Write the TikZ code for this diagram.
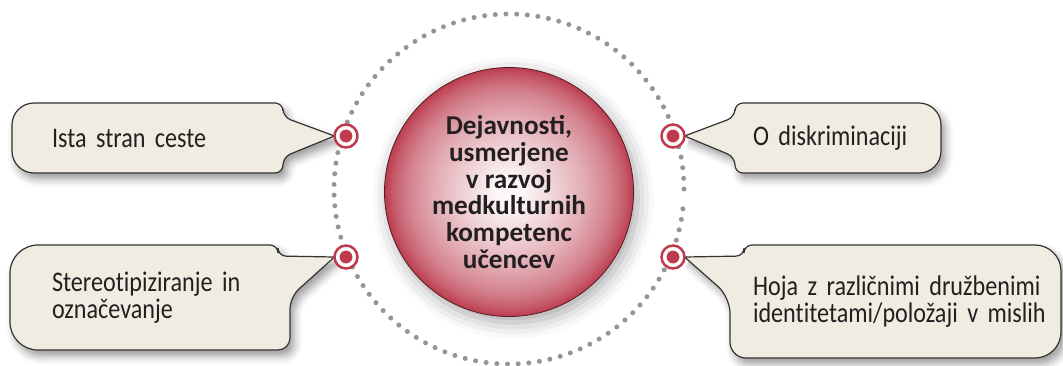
\documentclass[tikz,border=0pt]{standalone}
\usepackage{fontspec}
\setmainfont{Carlito}
\newfontfamily\bubblefont{Carlito}[FakeStretch=0.85,WordSpace=0.8,Ligatures=NoCommon]
\usepackage{tikz}
\usetikzlibrary{shadows.blur,backgrounds}
\definecolor{bubblefill}{HTML}{F0ECE2}
\definecolor{bubbleline}{HTML}{333333}
\definecolor{ringred}{HTML}{C03A4E}
\definecolor{ballred}{HTML}{BC3D50}
\definecolor{balllight}{HTML}{FCF8F8}
\definecolor{dotgray}{HTML}{959595}
\definecolor{inktext}{HTML}{231F20}
\pgfdeclareradialshading{ballshade}{\pgfpoint{0bp}{0bp}}{%
  color(0bp)=(balllight);
  color(2.5bp)=(balllight);
  color(9bp)=(ballred!20!balllight);
  color(15bp)=(ballred!40!balllight);
  color(20bp)=(ballred!62!balllight);
  color(23bp)=(ballred!82!balllight);
  color(25bp)=(ballred);
  color(50bp)=(ballred)}
\begin{document}
\begin{tikzpicture}[x=0.5pt,y=-0.5pt,
  bubble/.style={fill=bubblefill,draw=bubbleline,line width=0.6pt,
    blur shadow={shadow xshift=2pt,shadow yshift=-3pt,shadow blur radius=4pt,shadow opacity=40}},
  bubbletext/.style={outer sep=0pt,inner ysep=0pt,align=left,text=inktext,
    font=\bubblefont\fontsize{14.2}{13.5}\selectfont},
  marker/.style={circle,draw=ringred,line width=1.25pt,fill=white,
    minimum size=11.5pt,inner sep=0pt,outer sep=0pt,
    path picture={\fill[ringred] (path picture bounding box.center) circle (3.2pt);}},
  ball/.style={circle,minimum size=124.5pt,inner sep=0pt,draw=ballred!45!black,line width=0.4pt,
    shading=ballshade,align=center,text=inktext,
    font=\bfseries\fontsize{13.6}{13.35}\selectfont,
    blur shadow={shadow xshift=2pt,shadow yshift=-3pt,shadow blur radius=8pt,shadow opacity=35}}]
  \useasboundingbox (0,0) rectangle (1063,365);
  \coordinate (ring) at (509,189);
  \node[bubbletext,text width=95.5pt,inner xsep=20pt,minimum height=35pt]
    (b1) at (147.5,138) {Ista stran ceste};
  \node[bubbletext,text width=85pt,inner xsep=9pt,minimum height=35pt]
    (b2) at (838,138) {O diskriminaciji};
  \node[bubbletext,text width=98pt,inner xsep=21pt,minimum height=52.5pt]
    (b3) at (150,297.5) {Stereotipiziranje in\\označevanje};
  \node[bubbletext,text width=142.5pt,inner xsep=11.5pt,minimum height=56.5pt]
    (b4) at (895.5,301.5) {\mbox{Hoja z različnimi družbenimi}\\\mbox{identitetami/položaji v mislih}};
  \node[ball] (core) at (509,192)
    {Dejavnosti,\\usmerjene\\v razvoj\\medkulturnih\\kompetenc\\učencev};
  \node[marker] (m1) at (346,136) {};
  \node[marker] (m2) at (673,136) {};
  \node[marker] (m3) at (346,257) {};
  \node[marker] (m4) at (673,257) {};
  \begin{scope}[on background layer]
  \path[bubble]
    (m1.west)
    [rounded corners=4pt]
    --
    ([yshift=8pt]b1.south east)
    --
    (b1.south east)
    --
    (b1.south)
    [rounded corners=11pt]
    --
    (b1.south west)
    --
    (b1.north west)
    --
    (b1.north)
    [rounded corners=4pt]
    --
    (b1.north east)
    --
    ([yshift=-7pt]b1.north east)
    --
    (m1.west);
  \path[bubble]
    (m2.east)
    [rounded corners=4pt]
    --
    ([yshift=-7pt]b2.north west)
    --
    (b2.north west)
    --
    (b2.north)
    [rounded corners=11pt]
    --
    (b2.north east)
    --
    (b2.south east)
    --
    (b2.south)
    [rounded corners=4pt]
    --
    (b2.south west)
    --
    ([yshift=8pt]b2.south west)
    --
    (m2.east);
  \path[bubble]
    (m3.west)
    [rounded corners=4pt]
    --
    ([xshift=-6pt,yshift=-5.5pt]b3.north east)
    --
    ([xshift=-6pt]b3.north east)
    --
    (b3.north)
    [rounded corners=14pt]
    --
    (b3.north west)
    --
    (b3.south west)
    --
    (b3.south)
    [rounded corners=6pt]
    --
    (b3.south east)
    --
    ([yshift=-26pt]b3.north east)
    --
    (m3.west);
  \path[bubble]
    (m4.east)
    [rounded corners=4pt]
    --
    ([xshift=7pt,yshift=-5.5pt]b4.north west)
    --
    ([xshift=7pt]b4.north west)
    --
    (b4.north)
    [rounded corners=13pt]
    --
    (b4.north east)
    --
    (b4.south east)
    --
    (b4.south)
    [rounded corners=8pt]
    --
    (b4.south west)
    --
    ([yshift=-26pt]b4.north west)
    --
    (m4.east);
  \foreach \a in {0,3.5,...,356.5}
    \fill[dotgray]
      (ring)
      ++(\a:87.5pt)
      circle
      [radius=1.25pt];
  \end{scope}
\end{tikzpicture}
\end{document}
